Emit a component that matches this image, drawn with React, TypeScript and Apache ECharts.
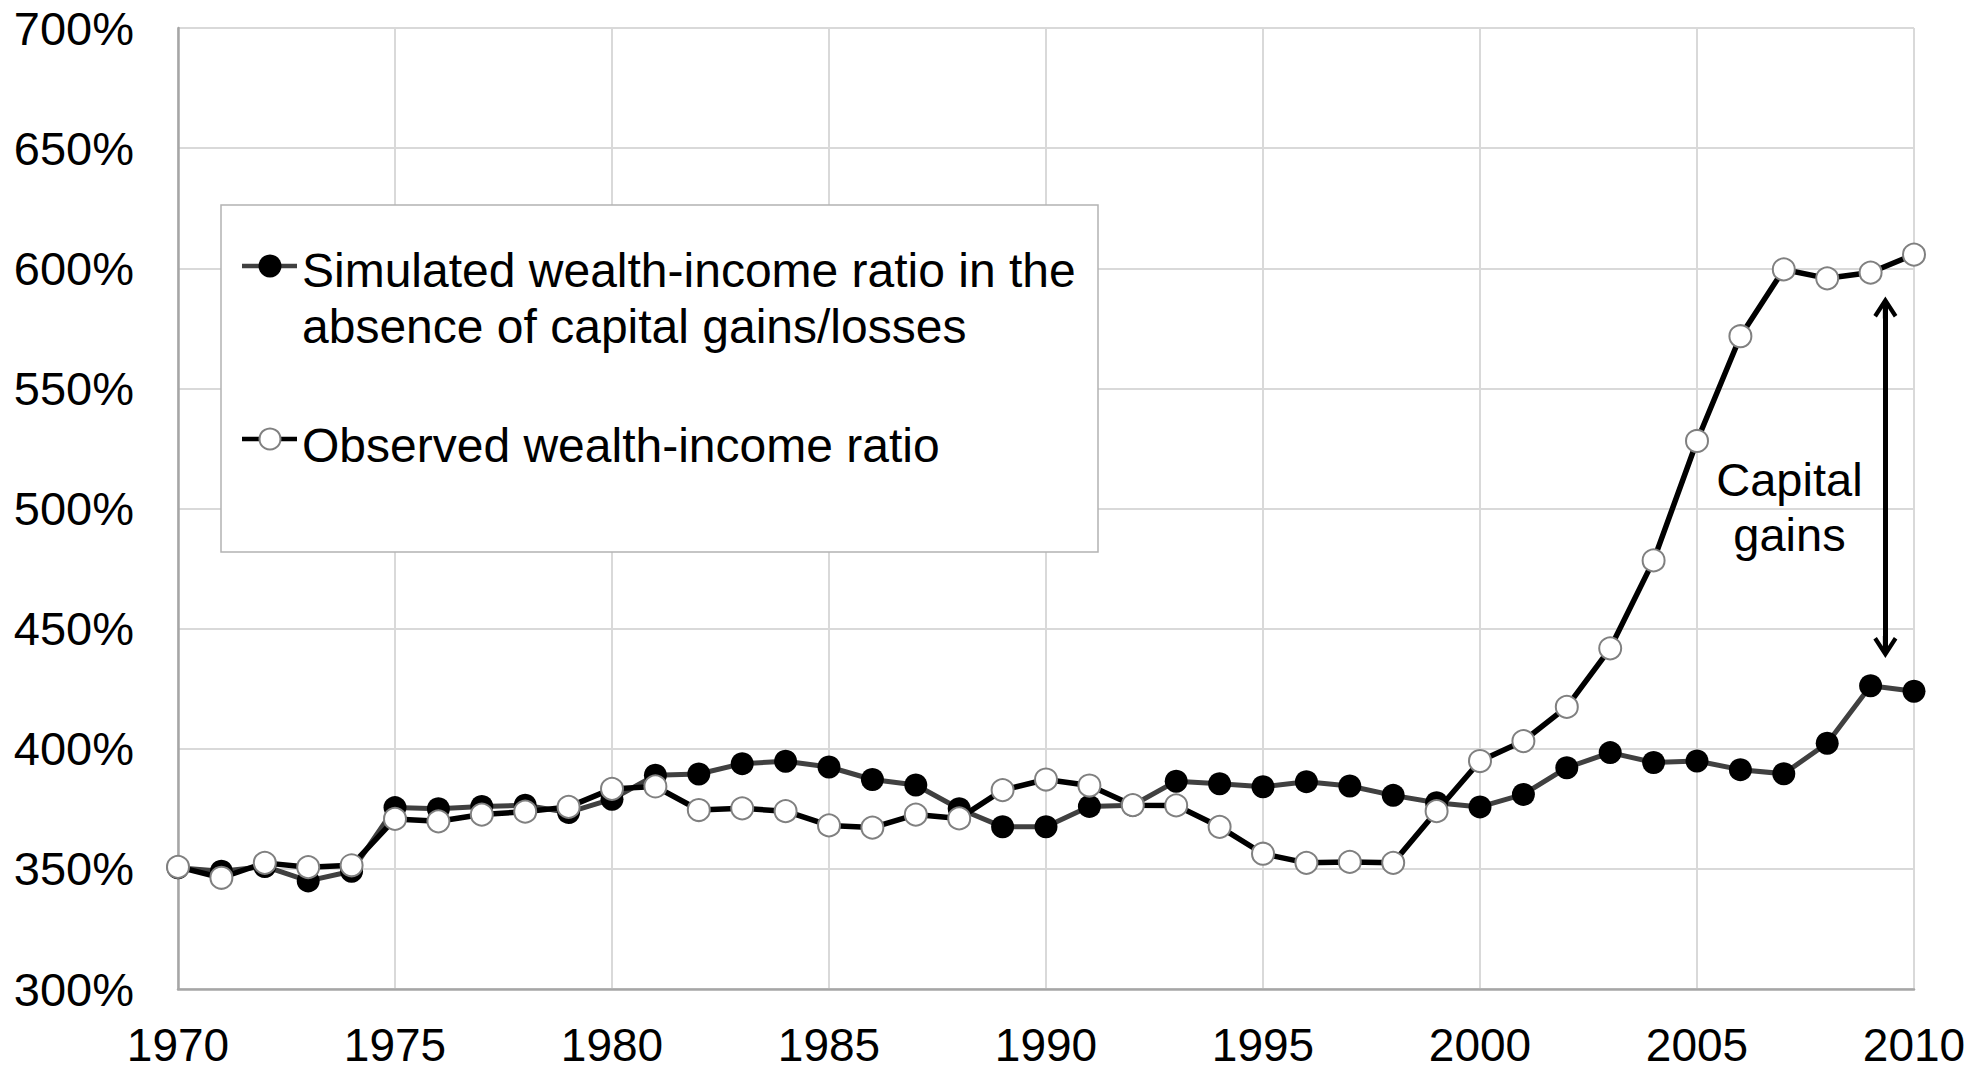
import React, { useEffect, useRef } from "react";
import * as echarts from "echarts";

const years: number[] = [
  1970, 1971, 1972, 1973, 1974, 1975, 1976, 1977, 1978, 1979,
  1980, 1981, 1982, 1983, 1984, 1985, 1986, 1987, 1988, 1989,
  1990, 1991, 1992, 1993, 1994, 1995, 1996, 1997, 1998, 1999,
  2000, 2001, 2002, 2003, 2004, 2005, 2006, 2007, 2008, 2009, 2010,
];

const simulated: number[] = [
  350.5, 349, 351, 345, 349, 375.5, 375, 376, 376.5, 373.5,
  379, 389, 389.5, 393.8, 394.8, 392.4, 387.2, 384.9, 375, 367.5,
  367.5, 376, 376.5, 386.5, 385.4, 384.2, 386.3, 384.5, 380.6, 377.5,
  375.8, 381, 392.1, 398.4, 394.3, 394.9, 391.3, 389.6, 402.3, 426.2, 423.9,
];

const observed: number[] = [
  350.8, 346.3, 352.5, 350.7, 351.5, 370.8, 369.8, 372.6, 373.8, 375.8,
  383.3, 384.3, 374.5, 375.2, 374, 368.1, 367.2, 372.6, 371, 382.8,
  387.2, 384.7, 376.5, 376.4, 367.5, 356.3, 352.5, 352.9, 352.5, 374,
  394.9, 403.2, 417.4, 441.8, 478.4, 528.1, 571.7, 599.5, 595.8, 598.2, 605.7,
];

const seriesNames: string[] = [
  "Simulated wealth-income ratio in the\nabsence of capital gains/losses",
  "Observed wealth-income ratio",
];

const annotationText = "Capital\ngains";
const annotationAt: [number, number] = [2007.13, 500.8];
const arrowFrom: [number, number] = [2009.34, 583.7];
const arrowTo: [number, number] = [2009.34, 442.3];

const FONT = "'Liberation Sans', Arial, Helvetica, sans-serif";
const ARROW_PATH =
  "path://M12 0 L24 18.5 L20.5 21 L14.5 11.8 L14.5 22 L9.5 22 L9.5 11.8 L3.5 21 L0 18.5 Z";

export default function App() {
  const ref = useRef<HTMLDivElement>(null);

  useEffect(() => {
    if (!ref.current) return;
    const chart = echarts.init(ref.current, undefined, { renderer: "svg" });

    const simData = years.map((y, i) => [y, simulated[i]]);
    const obsData = years.map((y, i) => [y, observed[i]]);

    chart.setOption({
      animation: false,
      backgroundColor: "#ffffff",
      grid: { left: 178, right: 74, top: 28, bottom: 85, containLabel: false },
      xAxis: {
        type: "value",
        min: 1970,
        max: 2010,
        interval: 5,
        axisLine: { show: true, lineStyle: { color: "#a6a6a6", width: 2.5 } },
        axisTick: { show: false },
        axisLabel: {
          fontSize: 46,
          lineHeight: 40,
          fontFamily: FONT,
          color: "#000",
          margin: 36,
          formatter: (v: number) => String(v),
        },
        splitLine: { show: true, lineStyle: { color: "#d9d9d9", width: 2 } },
      },
      yAxis: {
        type: "value",
        min: 300,
        max: 700,
        interval: 50,
        axisLine: { show: true, lineStyle: { color: "#a6a6a6", width: 2.5 } },
        axisTick: { show: false },
        axisLabel: {
          fontSize: 47,
          fontFamily: FONT,
          color: "#000",
          margin: 44,
          formatter: (v: number) => `${v}%`,
        },
        splitLine: { show: true, lineStyle: { color: "#d9d9d9", width: 2 } },
      },
      series: [
        {
          name: seriesNames[0],
          type: "line",
          data: simData,
          clip: false,
          symbol: "circle",
          symbolSize: 23,
          lineStyle: { color: "#404040", width: 5 },
          itemStyle: { color: "#000000", borderColor: "#000000", borderWidth: 0 },
          emphasis: { disabled: true },
          markPoint: {
            silent: true,
            symbol: "circle",
            symbolSize: 1,
            itemStyle: { color: "rgba(0,0,0,0)" },
            label: {
              show: true,
              position: "inside",
              formatter: annotationText,
              fontSize: 47,
              lineHeight: 55,
              fontFamily: FONT,
              color: "#000",
              align: "center",
            },
            data: [{ coord: annotationAt }],
          },
        },
        {
          name: seriesNames[1],
          type: "line",
          data: obsData,
          clip: false,
          symbol: "circle",
          symbolSize: 22,
          lineStyle: { color: "#000000", width: 5.5 },
          itemStyle: { color: "#ffffff", borderColor: "#808080", borderWidth: 2 },
          emphasis: { disabled: true },
          markLine: {
            silent: true,
            symbol: [ARROW_PATH, ARROW_PATH],
            symbolSize: [24, 22],
            label: { show: false },
            lineStyle: { color: "#000000", width: 5, type: "solid" },
            data: [[{ coord: arrowFrom }, { coord: arrowTo }]],
          },
        },
      ],
      graphic: [
        {
          type: "rect",
          z: 100,
          shape: { x: 221, y: 205, width: 877, height: 347 },
          style: { fill: "#ffffff", stroke: "#b3b3b3", lineWidth: 1.5 },
        },
        {
          type: "line",
          z: 101,
          shape: { x1: 242, y1: 266, x2: 297, y2: 266 },
          style: { stroke: "#404040", lineWidth: 4.7 },
        },
        {
          type: "circle",
          z: 102,
          shape: { cx: 270, cy: 266, r: 11.5 },
          style: { fill: "#000000" },
        },
        {
          type: "text",
          z: 102,
          x: 302,
          y: 242.7,
          style: {
            text: seriesNames[0],
            fontSize: 48,
            lineHeight: 56,
            fontFamily: FONT,
            fill: "#000",
            verticalAlign: "top",
            align: "left",
          },
        },
        {
          type: "line",
          z: 101,
          shape: { x1: 242, y1: 439, x2: 297, y2: 439 },
          style: { stroke: "#000000", lineWidth: 4.7 },
        },
        {
          type: "circle",
          z: 102,
          shape: { cx: 270, cy: 439, r: 10.5 },
          style: { fill: "#ffffff", stroke: "#808080", lineWidth: 2 },
        },
        {
          type: "text",
          z: 102,
          x: 302,
          y: 445,
          style: {
            text: seriesNames[1],
            fontSize: 48,
            fontFamily: FONT,
            fill: "#000",
            verticalAlign: "middle",
            align: "left",
          },
        },
      ],
    });

    return () => {
      chart.dispose();
    };
  }, []);

  return (
    <div
      ref={ref}
      style={{ position: "fixed", left: 0, top: 0, width: 1988, height: 1074, background: "#fff" }}
    />
  );
}
